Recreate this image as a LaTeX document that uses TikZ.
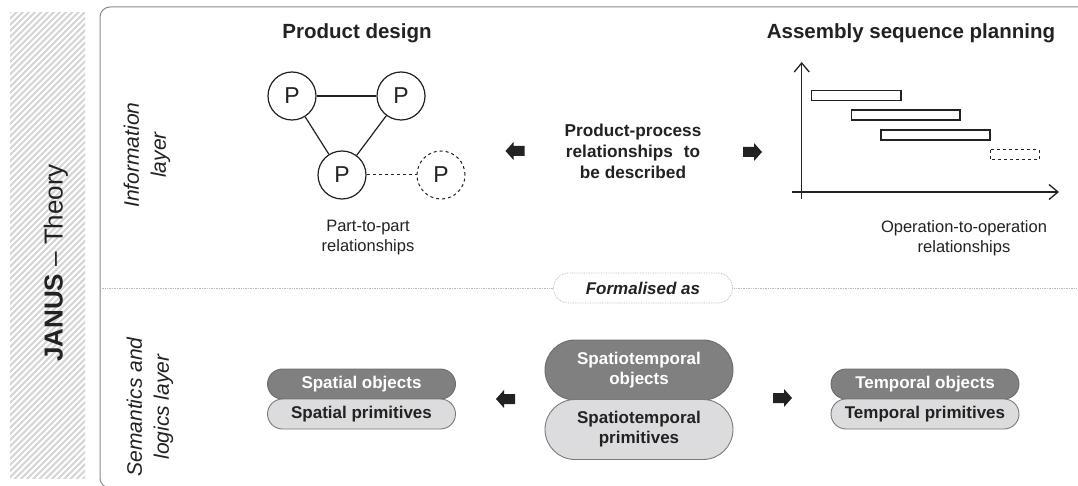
\documentclass[tikz,border=0pt]{standalone}
\usepackage{fontspec}
\setmainfont{Liberation Sans}
\usetikzlibrary{arrows.meta,shapes.misc}
\definecolor{framec}{HTML}{8A8A8A}
\definecolor{darkpill}{HTML}{808080}
\definecolor{darkedge}{HTML}{6C6C6C}
\definecolor{lightpill}{HTML}{DCDCDE}
\definecolor{lightedge}{HTML}{7A7A7A}
\definecolor{ink}{HTML}{222222}
\definecolor{hatchc}{HTML}{D6D6D6}
\tikzset{
  title/.style={font=\fontsize{20.5}{24}\selectfont\bfseries, text=ink, inner sep=0pt},
  pnode/.style={circle, draw=ink, line width=1.2pt, minimum size=48pt, inner sep=0pt,
    font=\fontsize{23}{26}\selectfont, text=ink, fill=white},
  conn/.style={draw=ink, line width=1.2pt},
  captiontext/.style={font=\fontsize{16.5}{20}\selectfont, align=center, text=ink, inner sep=0pt},
  pill/.style={rounded rectangle, minimum width=188pt, inner sep=0pt, line width=0.9pt,
    font=\fontsize{17}{20}\selectfont\bfseries, align=center},
  darkp/.style={pill, fill=darkpill, draw=darkedge, text=white},
  lightp/.style={pill, fill=lightpill, draw=lightedge, text=ink},
  axis/.style={draw=ink, line width=1.3pt, -{Straight Barb[length=9pt,width=15pt,line width=1.3pt]}},
  bar/.style={draw=ink, line width=1.2pt},
  blockarrow/.pic={\fill[ink] (-9.5,-5) -- (1.5,-5) -- (1.5,-9) -- (9.5,0) -- (1.5,9) -- (1.5,5) -- (-9.5,5) -- cycle;},
  sidelabel/.style={rotate=90, font=\fontsize{21}{27}\selectfont\itshape, align=center, text=ink, inner sep=0pt}
}
\begin{document}
\begin{tikzpicture}[x=1pt,y=-1pt]
\useasboundingbox (0,0) rectangle (1078,486);
\fill[white] (0,0) rectangle (1078,486);
% hatched band
\begin{scope}
  \clip (10,13) rectangle (85,478);
  \foreach \i in {0,...,95} {
    \draw[hatchc, line width=2.1pt] ({-480+\i*6.2},490) -- ({20+\i*6.2},-10);
  }
\end{scope}
% frame
\draw[framec, line width=1pt, rounded corners=10pt] (1095,7) -- (100,7) -- (100,488) -- (1095,488);
% divider
\draw[gray!55, line width=0.7pt, densely dotted] (100,288) -- (1078,288);
\node[rounded rectangle, draw=gray!60, densely dotted, line width=0.7pt, fill=white,
  minimum width=179pt, minimum height=30pt, inner sep=0pt,
  font=\fontsize{17}{20}\selectfont\bfseries\itshape, text=ink] (form) at (643,288) {Formalised as};
% side labels
\node[rotate=90, font=\fontsize{26}{30}\selectfont, text=ink, inner sep=0pt] (janus) at (56,263) {\textbf{JANUS} – Theory};
\node[sidelabel] (info) at (147,155) {Information\\layer};
\node[sidelabel] (sem) at (150,407) {Semantics and\\logics layer};
% titles
\node[title] (pd) at (357,33) {Product design};
\node[title] (asp) at (911,33) {Assembly sequence planning};
% part graph
\node[pnode] (p1) at (292,96) {P};
\node[pnode] (p2) at (401,96) {P};
\node[pnode] (p3) at (342,175) {P};
\node[pnode, dashed, line width=1pt] (p4) at (441,175) {P};
\draw[conn] (p1) -- (p2);
\draw[conn] (p1) -- (p3);
\draw[conn] (p2) -- (p3);
\draw[conn, dashed, line width=1pt] (p3) -- (p4);
\node[captiontext] (ptp) at (368,238) {Part-to-part\\relationships};
% centre text
\node[font=\fontsize{17.2}{21}\selectfont\bfseries, align=center, text=ink, inner sep=0pt] (ppr) at (633,151)
  {Product-process\\relationships\hspace{0.35em} to\\be described};
\pic[rotate=180] at (515,151) {blockarrow};
\pic at (752.5,152) {blockarrow};
% gantt
\coordinate (yb) at (801.7,199);
\coordinate (yt) at (801.7,62);
\coordinate (xl) at (792,192);
\coordinate (xr) at (1059,192);
\draw[axis] (yb) -- (yt);
\draw[axis] (xl) -- (xr);
\draw[bar] (811.7,90.7) rectangle (901,100.7);
\draw[bar] (851.7,110) rectangle (960,120);
\draw[bar] (881,130) rectangle (990,140);
\draw[bar, dashed, line width=1pt] (990,150) rectangle (1039,160);
\node[captiontext] (oto) at (964,238) {Operation-to-operation\\relationships};
% semantics layer
\node[darkp, minimum height=30pt] (so) at (361.5,384) {Spatial objects};
\node[lightp, minimum height=30pt] (sp) at (361.5,414) {Spatial primitives};
\node[darkp, minimum height=60pt] (sto) at (639,370) {Spatiotemporal\\objects};
\node[lightp, minimum height=60pt] (stp) at (639,429.5) {Spatiotemporal\\primitives};
\node[darkp, minimum height=30pt] (tmo) at (925,384) {Temporal objects};
\node[lightp, minimum height=30pt] (tmp) at (925,414) {Temporal primitives};
\pic[rotate=180] at (505.5,399) {blockarrow};
\pic at (782.5,398) {blockarrow};
\end{tikzpicture}
\end{document}
